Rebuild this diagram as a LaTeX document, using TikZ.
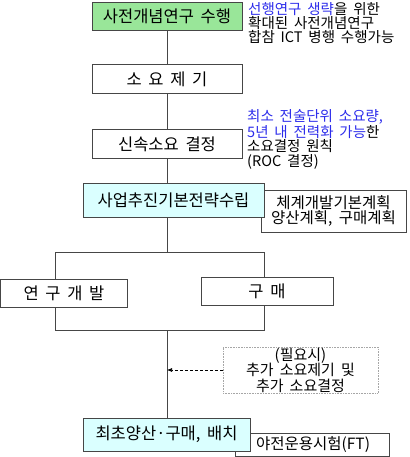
\documentclass[tikz,border=0pt]{standalone}
\usepackage{fontspec}
\setmainfont{Noto Sans CJK KR}[WordSpace=1.8]
\usepackage{xcolor}
\usetikzlibrary{arrows.meta, positioning, backgrounds, calc}
\definecolor{conceptgreen}{RGB}{153,230,153}
\definecolor{stratcyan}{RGB}{218,255,255}
\definecolor{noteblue}{RGB}{45,45,235}
\definecolor{linegray}{RGB}{70,70,70}
\tikzset{
  stepbox/.style={
    rectangle, draw=linegray, line width=0.8pt, fill=white,
    minimum width=150pt, minimum height=29pt, inner sep=0pt,
    text centered, font=\fontsize{16.5}{17}\selectfont
  },
  greenbox/.style={stepbox, fill=conceptgreen},
  cyanbox/.style={stepbox, fill=stratcyan},
  sidebox/.style={
    rectangle, draw=linegray, line width=0.6pt, fill=white, inner sep=0pt,
    align=center, font=\fontsize{15.5}{13.5}\selectfont
  },
  notebox/.style={
    rectangle, draw=gray!70, densely dotted, line width=0.6pt, inner sep=0pt,
    minimum width=155pt, minimum height=46pt,
    align=center, font=\fontsize{15}{15.5}\selectfont
  },
  notetext/.style={align=left, inner sep=0pt, anchor=west, font=\fontsize{14.5}{13}\selectfont},
  notetextwide/.style={notetext, font=\fontsize{14.5}{14.7}\selectfont},
  link/.style={draw=linegray, line width=0.8pt},
  dasharrow/.style={-{Latex[length=5pt,width=4pt]}, densely dashed, line width=0.6pt, color=black}
}

\begin{document}
\begin{tikzpicture}[x=1pt, y=1pt]
  \useasboundingbox (0,0) rectangle (409,-457);

  % main column
  \node[greenbox, minimum height=28pt] (concept) at (167,-16) {사전개념연구 수행};
  \node[stepbox, below=34pt of concept] (req) {소 요 제 기};
  \node[stepbox, below=35pt of req] (decide) {신속소요 결정};
  \node[sidebox, minimum width=145pt, minimum height=42pt] (plan) at (333.5,-211)
    {체계개발기본계획\\양산계획, 구매계획};
  \node[cyanbox, minimum width=181pt, minimum height=34pt] (strat) at (173.5,-200)
    {사업추진기본전략수립};
  \node[stepbox, minimum width=127pt, minimum height=28pt] (rnd) at (64,-293) {연 구 개 발};
  \node[stepbox, minimum width=132pt, minimum height=28pt] (buy) at (267,-291) {구 매};
  \node[notebox] (extra) at (300.5,-370) {(필요시)\\추가 소요제기 및\\추가 소요결정};
  \node[sidebox, minimum width=154pt, minimum height=23pt, text width=116pt, align=right] (ft)
    at (312,-444.5) {야전운용시험(FT)};
  \node[cyanbox, minimum width=167pt, minimum height=33pt] (deploy) at (166.5,-434.5)
    {최초양산·구매, 배치};

  % notes
  \node[notetext] (conceptnote) at (248,-23)
    {\textcolor{noteblue}{선행연구 생략}을 위한\\확대된 사전개념연구\\합참 ICT 병행 수행가능};
  \node[notetextwide] (decidenote) at (247,-139.5)
    {\textcolor{noteblue}{최소 전술단위 소요량,}\\\textcolor{noteblue}{5년 내 전력화 가능}한\\소요결정 원칙\\(ROC 결정)};

  \coordinate (forkL) at (55,-252);
  \coordinate (forkR) at (264,-252);
  \coordinate (joinL) at (55,-330);
  \coordinate (joinR) at (264,-330);
  \coordinate (forkT) at (167,-252);
  \coordinate (joinB) at (167,-330);

  \begin{scope}[on background layer]
    \draw[link] (concept) -- (req);
    \draw[link] (req) -- (decide);
    \draw[link] (decide.south) -- (decide.south |- strat.north);
    \draw[link] (decide.south |- strat.south) -- (forkT);
    \draw[link] (forkL) -- (forkR) -- (joinR) -- (joinL) -- cycle;
    \draw[link] (joinB) -- (deploy.north -| joinB);
  \end{scope}
  \draw[dasharrow] (extra.west) -- (extra.west -| joinB);
\end{tikzpicture}
\end{document}
